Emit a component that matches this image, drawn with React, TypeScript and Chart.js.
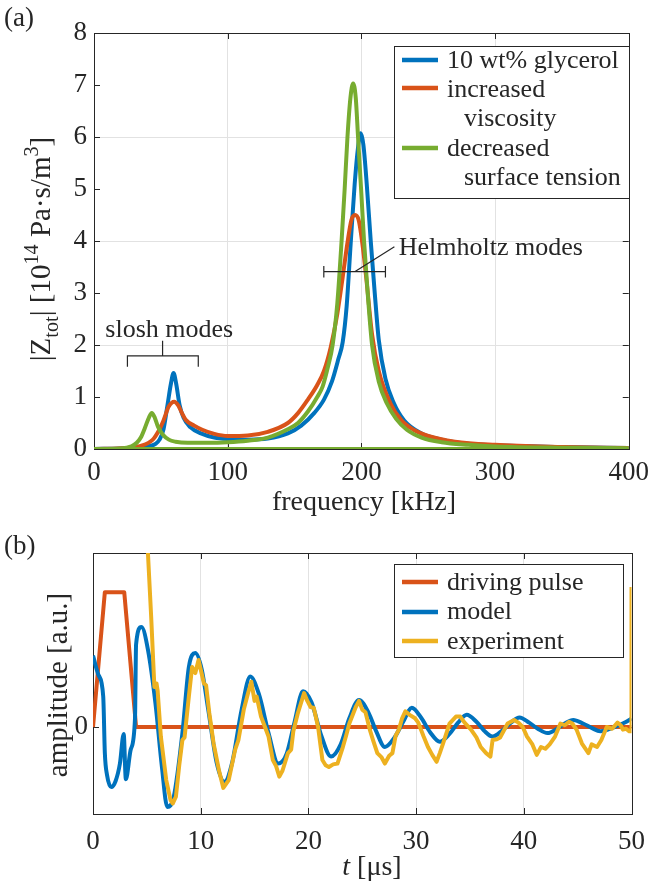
import React, { useEffect, useRef } from 'react';
import { Chart, registerables } from 'chart.js';
Chart.register(...registerables);

const FONT = '"Liberation Serif", "Times New Roman", serif';
const TEXT = '#262626';
const GRID = '#e2e2e2';
const BLUE = '#0072BD';
const ORANGE = '#D95319';
const YELLOW = '#EDB120';
const GREEN = '#77AC30';

// ---------- Panel (a): impedance spectra ----------
const freqTicks = [0, 100, 200, 300, 400];
const zTicks = [0, 1, 2, 3, 4, 5, 6, 7, 8];
const zGridValues = [2, 4, 6];
const freqGridValues = [100, 200, 300];

const glycerolFreq = [0, 20, 35, 42, 46, 49, 52, 55, 57.5, 59.5, 61.5, 64, 67, 72, 80, 90, 100, 115, 130, 145, 155, 165, 172, 178, 183, 186, 189, 192, 195, 197.5, 199.5, 201.5, 204, 207, 210, 213, 218, 224, 232, 245, 260, 280, 300, 350, 400];
const glycerolZ = [0, 0.01, 0.03, 0.06, 0.1, 0.18, 0.38, 0.85, 1.25, 1.46, 1.25, 0.85, 0.6, 0.42, 0.3, 0.22, 0.19, 0.18, 0.2, 0.3, 0.45, 0.7, 0.95, 1.3, 1.75, 2.05, 2.75, 3.95, 5.1, 5.8, 6.07, 5.85, 5.1, 4.0, 3.0, 2.1, 1.35, 0.9, 0.55, 0.3, 0.18, 0.1, 0.07, 0.04, 0.02];

const viscosityFreq = [0, 25, 35, 44, 48, 52, 56, 60, 63, 66, 68.6, 75, 81, 90, 100, 115, 130, 145, 152.6, 160, 167, 172, 177, 182, 186, 189.5, 192.5, 195.3, 198, 201, 204, 208, 213, 221.7, 230, 239, 250, 270, 300, 350, 400];
const viscosityZ = [0, 0.02, 0.06, 0.18, 0.33, 0.55, 0.82, 0.91, 0.84, 0.68, 0.56, 0.45, 0.37, 0.29, 0.25, 0.26, 0.33, 0.5, 0.69, 0.95, 1.23, 1.5, 1.95, 2.6, 3.3, 3.95, 4.4, 4.5, 4.4, 3.9, 3.2, 2.2, 1.5, 0.88, 0.55, 0.37, 0.25, 0.14, 0.08, 0.04, 0.02];

const tensionFreq = [0, 20, 28, 32, 35, 38, 41, 43.2, 45.5, 48, 51.4, 56, 61, 70, 85, 100, 115, 130, 145, 152.6, 160, 167, 171, 175, 178.5, 182, 185.2, 187.5, 189.6, 191.8, 193.8, 195.8, 197.5, 200, 202, 205, 208, 213, 219, 226, 234, 245, 260, 280, 300, 350, 400];
const tensionZ = [0, 0.01, 0.05, 0.12, 0.22, 0.4, 0.6, 0.69, 0.6, 0.42, 0.28, 0.18, 0.14, 0.12, 0.12, 0.13, 0.16, 0.22, 0.38, 0.5, 0.72, 1.0, 1.2, 1.58, 2.0, 2.8, 4.0, 5.0, 6.0, 6.75, 7.03, 6.75, 6.0, 4.9, 4.0, 2.9, 2.0, 1.3, 0.88, 0.58, 0.37, 0.22, 0.13, 0.08, 0.05, 0.025, 0.015];

const baselineFreq = [0, 400];
const baselineZ = [0, 0];

// ---------- Panel (b): ring-down ----------
const timeTicks = [0, 10, 20, 30, 40, 50];
const timeGridValues = [10, 20, 30, 40];
const ampTicks = [0];

const pulseTime = [0, 1.1, 2.9, 4.0, 50];
const pulseAmp = [0, 1.55, 1.55, 0, 0];

const modelTime = [0, 0.5, 0.95, 1.1, 1.3, 1.7, 2.1, 2.5, 2.85, 3.05, 3.5, 3.9, 4.0, 4.5, 5.1, 5.8, 6.4, 6.9, 7.5, 8.3, 8.9, 9.5, 10.1, 10.7, 11.5, 12.2, 12.9, 13.8, 14.6, 15.4, 16.3, 17.2, 18.0, 18.7, 19.5, 20.3, 21.2, 22.1, 23.0, 23.8, 24.7, 25.6, 26.3, 27.1, 28.0, 28.8, 29.6, 30.5, 31.3, 32.2, 33.1, 33.9, 34.7, 35.6, 36.3, 37.1, 38.0, 38.8, 39.6, 40.5, 41.3, 42.2, 43.1, 43.8, 44.6, 45.5, 46.3, 47.1, 48.0, 49.0, 49.8, 50];
const modelAmp = [0.82, 0.6, 0.35, -0.3, -0.55, -0.69, -0.62, -0.42, -0.08, -0.6, -0.26, 0.1, 0.95, 1.15, 0.89, 0.27, -0.46, -0.92, -0.8, -0.07, 0.69, 0.85, 0.66, 0.2, -0.42, -0.63, -0.42, 0.2, 0.58, 0.38, -0.07, -0.42, -0.3, 0.05, 0.41, 0.28, -0.1, -0.34, -0.2, 0.1, 0.31, 0.16, -0.05, -0.23, -0.12, 0.06, 0.22, 0.1, -0.06, -0.17, -0.08, 0.05, 0.14, 0.06, -0.04, -0.11, -0.04, 0.05, 0.11, 0.05, -0.02, -0.07, -0.02, 0.04, 0.08, 0.04, -0.01, -0.05, -0.02, 0.03, 0.08, 0.1];

const expTime = [4.85, 5.1, 5.4, 5.7, 5.9, 6.0, 6.3, 6.8, 7.2, 7.4, 7.7, 8.0, 8.3, 8.5, 8.9, 9.2, 9.5, 9.8, 10.3, 10.5, 10.8, 11.2, 11.7, 12.1, 12.6, 13.2, 13.5, 14.0, 14.4, 14.7, 15.0, 15.2, 15.6, 16.3, 16.7, 17.0, 17.3, 17.6, 18.1, 18.4, 18.6, 19.0, 19.3, 19.6, 19.9, 20.2, 20.5, 20.9, 21.3, 21.6, 21.9, 22.3, 22.7, 23.2, 23.5, 23.8, 24.4, 24.7, 25.0, 25.3, 25.7, 26.0, 26.4, 26.8, 27.1, 27.5, 27.8, 28.1, 28.4, 28.7, 29.0, 29.4, 29.9, 30.2, 30.7, 31.1, 31.5, 31.9, 32.2, 32.5, 33.1, 33.7, 34.1, 34.5, 35.1, 35.6, 36.0, 36.5, 36.9, 37.1, 37.5, 37.8, 38.5, 39.1, 39.5, 39.9, 40.3, 40.8, 41.2, 41.6, 42.0, 42.4, 42.9, 43.4, 43.8, 44.2, 44.5, 44.9, 45.4, 46.0, 46.3, 46.8, 47.2, 47.7, 48.2, 48.7, 49.0, 49.2, 49.5, 49.8, 50.0, 50.0];
const expAmp = [2.4, 2.0, 1.27, 0.46, 0.5, 0.42, -0.11, -0.61, -0.84, -0.88, -0.8, -0.45, -0.15, -0.12, 0.35, 0.69, 0.62, 0.77, 0.5, 0.48, 0.16, -0.19, -0.5, -0.7, -0.61, -0.26, -0.15, 0.2, 0.39, 0.52, 0.3, 0.35, 0.12, -0.11, -0.38, -0.45, -0.57, -0.5, -0.3, -0.26, -0.05, 0.15, 0.27, 0.39, 0.3, 0.23, 0.22, 0.0, -0.38, -0.44, -0.46, -0.43, -0.42, -0.23, -0.1, 0.04, 0.23, 0.3, 0.2, 0.17, -0.03, -0.15, -0.3, -0.35, -0.42, -0.33, -0.3, -0.1, -0.03, 0.1, 0.18, 0.14, 0.1, 0.05, -0.11, -0.23, -0.32, -0.4, -0.3, -0.19, 0.04, 0.12, 0.12, 0.05, -0.03, -0.12, -0.23, -0.3, -0.34, -0.15, -0.14, -0.12, 0.04, 0.08, 0.05, 0.0, -0.11, -0.2, -0.32, -0.23, -0.25, -0.2, -0.11, 0.04, 0.02, 0.06, 0.04, -0.03, -0.19, -0.3, -0.2, -0.23, -0.15, 0.0, -0.02, 0.05, 0.02, -0.03, -0.02, -0.05, -0.05, 1.61];

// ---------- helpers ----------
const zip = (xs: number[], ys: number[]) => xs.map((x, i) => ({ x, y: ys[i] }));

type Run = { t: string; sub?: boolean; sup?: boolean; italic?: boolean };

function drawRuns(ctx: CanvasRenderingContext2D, runs: Run[], size: number, x: number, y: number, rotate: boolean, align: 'center' | 'left' = 'center') {
  ctx.save();
  ctx.translate(x, y);
  if (rotate) ctx.rotate(-Math.PI / 2);
  const pieces = runs.map((r) => {
    const s = r.sub || r.sup ? size * 0.7 : size;
    const f = `${r.italic ? 'italic ' : ''}${s}px ${FONT}`;
    ctx.font = f;
    return { ...r, f, w: ctx.measureText(r.t).width, dy: r.sub ? size * 0.28 : r.sup ? -size * 0.42 : 0 };
  });
  const total = pieces.reduce((a, p) => a + p.w, 0);
  let cx = align === 'center' ? -total / 2 : 0;
  ctx.textBaseline = 'alphabetic';
  ctx.textAlign = 'left';
  ctx.fillStyle = TEXT;
  for (const p of pieces) {
    ctx.font = p.f;
    ctx.fillText(p.t, cx, p.dy);
    cx += p.w;
  }
  ctx.restore();
}

function drawBoxAndTicks(chart: any, xt: number[], yt: number[]) {
  const { ctx, chartArea: a, scales } = chart;
  ctx.save();
  ctx.strokeStyle = TEXT;
  ctx.lineWidth = 1;
  ctx.strokeRect(Math.round(a.left) + 0.5, Math.round(a.top) + 0.5, Math.round(a.right - a.left), Math.round(a.bottom - a.top));
  const L = 6;
  ctx.beginPath();
  for (const v of xt) {
    const px = Math.round(scales.x.getPixelForValue(v)) + 0.5;
    ctx.moveTo(px, a.bottom); ctx.lineTo(px, a.bottom - L);
    ctx.moveTo(px, a.top); ctx.lineTo(px, a.top + L);
  }
  for (const v of yt) {
    const py = Math.round(scales.y.getPixelForValue(v)) + 0.5;
    ctx.moveTo(a.left, py); ctx.lineTo(a.left + L, py);
    ctx.moveTo(a.right, py); ctx.lineTo(a.right - L, py);
  }
  ctx.stroke();
  ctx.restore();
}

type LegendRow = { text: string; color?: string; indent?: boolean; base: number; lineY?: number };

function drawLegend(ctx: CanvasRenderingContext2D, box: { x: number; y: number; w: number; h: number }, rows: LegendRow[]) {
  ctx.save();
  ctx.fillStyle = '#ffffff';
  ctx.fillRect(box.x, box.y, box.w, box.h);
  ctx.strokeStyle = TEXT;
  ctx.lineWidth = 1;
  ctx.strokeRect(box.x + 0.5, box.y + 0.5, box.w, box.h);
  for (const r of rows) {
    if (r.color && r.lineY !== undefined) {
      ctx.strokeStyle = r.color;
      ctx.lineWidth = 4.5;
      ctx.beginPath();
      ctx.moveTo(box.x + 8, r.lineY);
      ctx.lineTo(box.x + 44, r.lineY);
      ctx.stroke();
    }
    ctx.fillStyle = TEXT;
    ctx.font = `26px ${FONT}`;
    ctx.textBaseline = 'alphabetic';
    ctx.textAlign = 'left';
    ctx.fillText(r.text, box.x + (r.indent ? 70 : 53), r.base);
  }
  ctx.restore();
}

// annotation anchors in data units (panel a)
const sloshBracket = { left: 25, right: 78, y: 1.79, tip: 1.58, stemX: 51.3, stemTop: 2.08 };
const sloshLabel = { x: 56.3, y: 2.15 };
const helmBar = { left: 171.9, right: 218, y: 3.41, cap: 0.11, leadX0: 195, leadX1: 224.7, leadY1: 3.89 };
const helmLabel = { x: 228, y: 3.73 };

const panelAPlugin = {
  id: 'panelA',
  beforeDatasetsDraw(chart: any) {
    drawBoxAndTicks(chart, freqTicks, zTicks);
  },
  afterDatasetsDraw(chart: any) {
    const { ctx, scales } = chart;
    const X = (v: number) => scales.x.getPixelForValue(v);
    const Y = (v: number) => scales.y.getPixelForValue(v);
    ctx.save();
    ctx.strokeStyle = TEXT;
    ctx.lineWidth = 1.2;
    ctx.beginPath();
    ctx.moveTo(X(sloshBracket.left), Y(sloshBracket.tip));
    ctx.lineTo(X(sloshBracket.left), Y(sloshBracket.y));
    ctx.lineTo(X(sloshBracket.right), Y(sloshBracket.y));
    ctx.lineTo(X(sloshBracket.right), Y(sloshBracket.tip));
    ctx.moveTo(X(sloshBracket.stemX), Y(sloshBracket.y));
    ctx.lineTo(X(sloshBracket.stemX), Y(sloshBracket.stemTop));
    ctx.moveTo(X(helmBar.left), Y(helmBar.y));
    ctx.lineTo(X(helmBar.right), Y(helmBar.y));
    ctx.moveTo(X(helmBar.left), Y(helmBar.y - helmBar.cap));
    ctx.lineTo(X(helmBar.left), Y(helmBar.y + helmBar.cap));
    ctx.moveTo(X(helmBar.right), Y(helmBar.y - helmBar.cap));
    ctx.lineTo(X(helmBar.right), Y(helmBar.y + helmBar.cap));
    ctx.moveTo(X(helmBar.leadX0), Y(helmBar.y));
    ctx.lineTo(X(helmBar.leadX1), Y(helmBar.leadY1));
    ctx.stroke();
    ctx.restore();
    drawRuns(ctx, [{ t: 'slosh modes' }], 26, X(sloshLabel.x), Y(sloshLabel.y), false, 'center');
    drawRuns(ctx, [{ t: 'Helmholtz modes' }], 26, X(helmLabel.x), Y(helmLabel.y), false, 'left');
  },
  afterDraw(chart: any) {
    const { ctx } = chart;
    drawLegend(ctx, { x: 394, y: 46, w: 235, h: 152 }, [
      { text: '10 wt% glycerol', color: BLUE, base: 68, lineY: 60 },
      { text: 'increased', color: ORANGE, base: 97, lineY: 88 },
      { text: 'viscosity', indent: true, base: 126 },
      { text: 'decreased', color: GREEN, base: 156, lineY: 148 },
      { text: 'surface tension', indent: true, base: 185 },
    ]);
    drawRuns(ctx, [{ t: '(a)' }], 27, 4, 26, false, 'left');
    drawRuns(ctx, [
      { t: '|Z' }, { t: 'tot', sub: true }, { t: '| [10' }, { t: '14', sup: true },
      { t: ' Pa·s/m' }, { t: '3', sup: true }, { t: ']' },
    ], 29, 50, 249, true, 'center');
    drawRuns(ctx, [{ t: 'frequency [kHz]' }], 28, 364, 510, false, 'center');
  },
};

const panelBPlugin = {
  id: 'panelB',
  beforeDatasetsDraw(chart: any) {
    drawBoxAndTicks(chart, timeTicks, ampTicks);
  },
  afterDraw(chart: any) {
    const { ctx } = chart;
    drawLegend(ctx, { x: 394, y: 34, w: 229, h: 93 }, [
      { text: 'driving pulse', color: ORANGE, base: 60, lineY: 52 },
      { text: 'model', color: BLUE, base: 89, lineY: 82 },
      { text: 'experiment', color: YELLOW, base: 119, lineY: 111 },
    ]);
    drawRuns(ctx, [{ t: '(b)' }], 27, 4, 24, false, 'left');
    drawRuns(ctx, [{ t: 'amplitude [a.u.]' }], 29, 67, 155, true, 'center');
    drawRuns(ctx, [{ t: 't', italic: true }, { t: ' [μs]' }], 28, 372, 345, false, 'center');
  },
};

const lineDs = (label: string, xs: number[], ys: number[], color: string, order: number, smooth: boolean) => ({
  label,
  data: zip(xs, ys),
  borderColor: color,
  backgroundColor: color,
  borderWidth: 4,
  borderJoinStyle: 'round' as const,
  borderCapStyle: 'butt' as const,
  pointRadius: 0,
  fill: false,
  tension: 0,
  cubicInterpolationMode: smooth ? ('monotone' as const) : ('default' as const),
  order,
});

const tickFont = { family: FONT, size: 27 };

export default function App() {
  const refA = useRef<HTMLCanvasElement>(null);
  const refB = useRef<HTMLCanvasElement>(null);

  useEffect(() => {
    const chartA = new Chart(refA.current as HTMLCanvasElement, {
      type: 'line',
      data: {
        datasets: [
          lineDs('10 wt% glycerol', glycerolFreq, glycerolZ, BLUE, 3, true),
          lineDs('increased viscosity', viscosityFreq, viscosityZ, ORANGE, 2, true),
          lineDs('decreased surface tension', tensionFreq, tensionZ, GREEN, 1, true),
          lineDs('baseline', baselineFreq, baselineZ, GREEN, 0, false),
        ] as any,
      },
      options: {
        animation: false,
        responsive: false,
        maintainAspectRatio: false,
        devicePixelRatio: 1,
        layout: { padding: { top: 33, right: 23, left: 0, bottom: 0 } },
        plugins: { legend: { display: false }, tooltip: { enabled: false } },
        scales: {
          x: {
            type: 'linear', min: 0, max: 400,
            afterBuildTicks: (s: any) => { s.ticks = freqTicks.map((v) => ({ value: v })); },
            afterFit: (s: any) => { s.height = 81; },
            grid: { drawTicks: false, lineWidth: 1, color: (c: any) => (freqGridValues.includes(c.tick?.value) ? GRID : 'rgba(0,0,0,0)') },
            border: { display: false },
            ticks: { font: tickFont, color: TEXT, padding: 8, maxRotation: 0, autoSkip: false },
          },
          y: {
            type: 'linear', min: 0, max: 8,
            afterBuildTicks: (s: any) => { s.ticks = zTicks.map((v) => ({ value: v })); },
            afterFit: (s: any) => { s.width = 94; },
            grid: { drawTicks: false, lineWidth: 1, color: (c: any) => (zGridValues.includes(c.tick?.value) ? GRID : 'rgba(0,0,0,0)') },
            border: { display: false },
            ticks: { font: tickFont, color: TEXT, padding: 7, autoSkip: false },
          },
        },
      } as any,
      plugins: [panelAPlugin],
    });

    const chartB = new Chart(refB.current as HTMLCanvasElement, {
      type: 'line',
      data: {
        datasets: [
          lineDs('driving pulse', pulseTime, pulseAmp, ORANGE, 3, false),
          lineDs('model', modelTime, modelAmp, BLUE, 2, true),
          lineDs('experiment', expTime, expAmp, YELLOW, 1, false),
        ] as any,
      },
      options: {
        animation: false,
        responsive: false,
        maintainAspectRatio: false,
        devicePixelRatio: 1,
        layout: { padding: { top: 23, right: 20, left: 0, bottom: 0 } },
        plugins: { legend: { display: false }, tooltip: { enabled: false } },
        scales: {
          x: {
            type: 'linear', min: 0, max: 50,
            afterBuildTicks: (s: any) => { s.ticks = timeTicks.map((v) => ({ value: v })); },
            afterFit: (s: any) => { s.height = 72; },
            grid: { drawTicks: false, lineWidth: 1, color: (c: any) => (timeGridValues.includes(c.tick?.value) ? GRID : 'rgba(0,0,0,0)') },
            border: { display: false },
            ticks: { font: tickFont, color: TEXT, padding: 12, maxRotation: 0, autoSkip: false },
          },
          y: {
            type: 'linear', min: -1, max: 2,
            afterBuildTicks: (s: any) => { s.ticks = ampTicks.map((v) => ({ value: v })); },
            afterFit: (s: any) => { s.width = 93; },
            grid: { display: false, drawTicks: false },
            border: { display: false },
            ticks: { font: tickFont, color: TEXT, padding: 5, autoSkip: false },
          },
        },
      } as any,
      plugins: [panelBPlugin],
    });

    return () => {
      chartA.destroy();
      chartB.destroy();
    };
  }, []);

  return (
    <div style={{ position: 'absolute', left: 0, top: 0, width: 657, height: 886, background: '#ffffff' }}>
      <canvas ref={refA} width={657} height={530} style={{ position: 'absolute', left: 0, top: 0, width: 657, height: 530 }} />
      <canvas ref={refB} width={657} height={356} style={{ position: 'absolute', left: 0, top: 530, width: 657, height: 356 }} />
    </div>
  );
}
